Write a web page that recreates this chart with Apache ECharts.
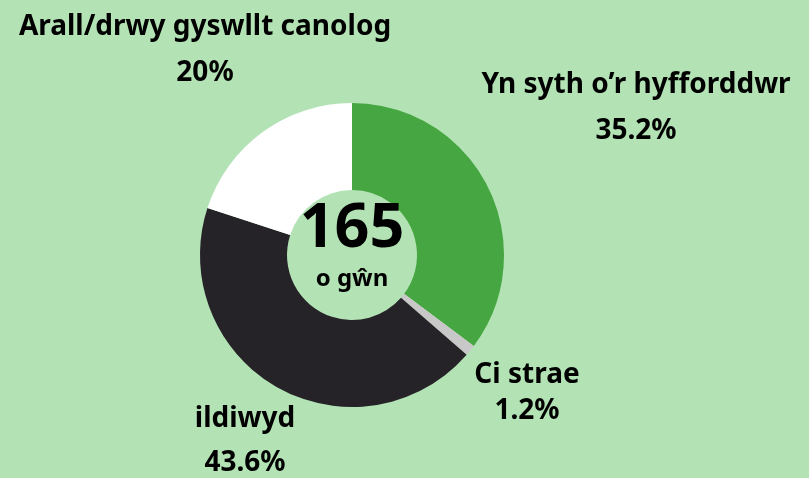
<!DOCTYPE html>
<html>
<head>
<meta charset="utf-8">
<title>Cŵn</title>
<style>
    html, body { margin: 0; padding: 0; background: #b3e3b5; }
    #main { width: 809px; height: 478px; }
</style>
</head>
<body>
<div id="main"></div>
<script src="https://cdn.jsdelivr.net/npm/echarts@6/dist/echarts.min.js"></script>
<script>
// data
var categories = ['Yn syth o\u2019r hyfforddwr', 'Ci strae', 'ildiwyd', 'Arall/drwy gyswllt canolog'];
var values = [35.2, 1.2, 43.6, 20];
var valueLabels = ['35.2%', '1.2%', '43.6%', '20%'];
var colours = ['#46a641', '#c8c8c8', '#262328', '#ffffff'];
var total = '165';
var totalUnit = 'o g\u0175n';

// where each label sits (centre of the text block)
var labelPos = [
    { x: 636, y: 108, lh: 46 },
    { x: 527, y: 393, lh: 36 },
    { x: 245, y: 441, lh: 44 },
    { x: 205, y: 50, lh: 46 }
];

var myChart = echarts.init(document.getElementById('main'));

var font = '"Noto Sans", sans-serif';

var option = {
    backgroundColor: '#b3e3b5',
    animation: false,
    title: [
        {
            text: total, left: 352, top: 199, textAlign: 'center', padding: 0,
            textStyle: { fontFamily: font, fontSize: 61, fontWeight: 'bold', color: '#000' }
        },
        {
            text: totalUnit, left: 352, top: 267, textAlign: 'center', padding: 0,
            textStyle: { fontFamily: font, fontSize: 24, fontWeight: 'bold', color: '#000' }
        }
    ],
    series: [{
        type: 'pie',
        center: [352, 255],
        radius: [65, 152],
        startAngle: 90,
        clockwise: true,
        data: categories.map(function (c, i) {
            return {
                name: c,
                value: values[i],
                itemStyle: { color: colours[i] },
                label: {
                    rich: { a: { lineHeight: labelPos[i].lh } }
                }
            };
        }),
        label: {
            show: true,
            position: 'outside',
            overflow: 'none',
            width: 420,
            formatter: function (p) {
                return '{a|' + p.name + '}\n{a|' + valueLabels[p.dataIndex] + '}';
            },
            fontFamily: font,
            fontSize: 28,
            fontWeight: 'bold',
            color: '#000',
            align: 'center',
            rich: { a: { fontFamily: font, fontSize: 28, fontWeight: 'bold', color: '#000', align: 'center' } }
        },
        labelLine: { show: false },
        labelLayout: function (params) {
            var p = labelPos[params.dataIndex];
            return { x: p.x, y: p.y, align: 'center', verticalAlign: 'middle' };
        },
        emphasis: { disabled: true }
    }]
};

myChart.setOption(option);
</script>
</body>
</html>
